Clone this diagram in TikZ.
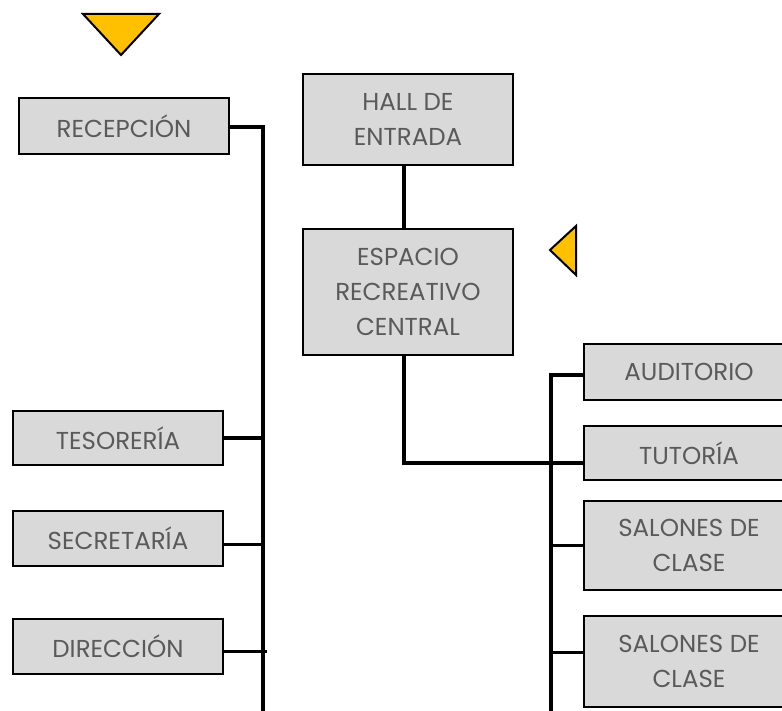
\documentclass[tikz,border=0pt]{standalone}
\usepackage{fontspec}
\setmainfont{Poppins}
\definecolor{boxfill}{HTML}{D9D9D9}
\definecolor{boxtext}{HTML}{5A5A5A}
\definecolor{marker}{HTML}{FFC000}
\begin{document}
\begin{tikzpicture}[x=1pt,y=-1pt,
  area/.style={draw=black, line width=2.2pt, fill=boxfill, text=boxtext,
    minimum width=210pt, inner sep=0pt, align=center,
    font=\fontsize{24.5}{35}\selectfont},
  link/.style={draw=black, line width=3.2pt},
  marker/.style={draw=black, line width=2pt, fill=marker, line join=miter}]
\useasboundingbox (0,0) rectangle (782,711);
\clip (0,0) rectangle (782,711);

% yellow direction markers
\draw[marker] (83,14) -- (159,14) -- (121,55) -- cycle;
\draw[marker] (576,226) -- (576,275) -- (550,250) -- cycle;

% left column
\node[area, minimum height=56pt] (rec) at (124,126) {RECEPCIÓN};
\node[area, minimum height=54pt] (tes) at (118,438) {TESORERÍA};
\node[area, minimum height=55pt] (sec) at (118,538.5) {SECRETARÍA};
\node[area, minimum height=55pt] (dir) at (118,646.5) {DIRECCIÓN};

% central column
\node[area, minimum height=91pt] (hall) at (408,119.5) {HALL DE\\ENTRADA};
\node[area, minimum height=126pt] (esp) at (408,292) {ESPACIO\\RECREATIVO\\CENTRAL};

% right column
\node[area, minimum height=56pt] (aud) at (689,372) {AUDITORIO};
\node[area, minimum height=54pt] (tut) at (689,453) {TUTORÍA};
\node[area, minimum height=89pt] (sal1) at (689,545.5) {SALONES DE\\CLASE};
\node[area, minimum height=91pt] (sal2) at (689,661.5) {SALONES DE\\CLASE};

% trunk ends
\coordinate (lb) at (263,715);
\coordinate (rb) at (551,715);

% left connectors
\draw[link] ([yshift=-1pt]rec.east) -| (lb);
\draw[link] (tes.east) -- (tes.east -| lb);
\draw[link] ([yshift=-6pt]sec.east) -- ([yshift=-6pt]sec.east -| lb);
\draw[link] ([yshift=-5pt]dir.east) -- ([yshift=-5pt,xshift=4pt]dir.east -| lb);

% central connectors
\draw[link] ([xshift=-4pt]hall.south) -- ([xshift=-4pt]esp.north);
\draw[link] ([xshift=-4pt]esp.south) |- ([yshift=-10pt]tut.west);

% right connectors
\draw[link] ([yshift=-3pt]aud.west) -| (rb);
\draw[link] (sal1.west) -- (sal1.west -| rb);
\draw[link] ([yshift=9pt]sal2.west) -- ([yshift=9pt]sal2.west -| rb);
\end{tikzpicture}
\end{document}
